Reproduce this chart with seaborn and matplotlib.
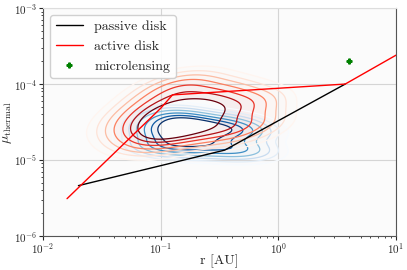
import matplotlib
matplotlib.use("Agg")
import matplotlib.pyplot as plt
import numpy as np
import pandas as pd
import seaborn as sns

# poblaciones para las KDE
r_azul = [0.075, 0.075, 0.09, 0.09, 0.09, 0.11, 0.11, 0.11, 0.11, 0.13, 0.13, 0.13, 0.13,
          0.16, 0.16, 0.16, 0.16, 0.2, 0.2, 0.2, 0.2, 0.24, 0.24, 0.24, 0.3, 0.3, 0.3,
          0.37, 0.37, 0.37, 0.45, 0.45, 0.45, 0.55, 0.55, 0.65, 0.65]
mu_azul = [1.6e-5, 2.6e-5, 1.4e-5, 2.2e-5, 3.3e-5, 1.5e-5, 2.0e-5, 2.7e-5, 3.8e-5,
           1.4e-5, 2.1e-5, 2.8e-5, 3.6e-5, 1.5e-5, 2.2e-5, 2.9e-5, 4.0e-5,
           1.4e-5, 2.0e-5, 2.7e-5, 3.5e-5, 1.5e-5, 2.1e-5, 3.0e-5, 1.4e-5, 2.2e-5, 3.1e-5,
           1.3e-5, 2.0e-5, 2.9e-5, 1.4e-5, 2.3e-5, 3.2e-5, 1.3e-5, 2.4e-5, 1.4e-5, 2.5e-5]
r_rojo = [0.048, 0.055, 0.055, 0.07, 0.07, 0.07, 0.085, 0.085, 0.085, 0.085, 0.1, 0.1, 0.1, 0.1,
          0.12, 0.12, 0.12, 0.12, 0.15, 0.15, 0.15, 0.15, 0.18, 0.18, 0.18, 0.18,
          0.22, 0.22, 0.22, 0.22, 0.27, 0.27, 0.27, 0.33, 0.33, 0.33, 0.4, 0.4, 0.4,
          0.5, 0.5, 0.6, 0.6, 0.7, 0.7]
mu_rojo = [2.6e-5, 2.0e-5, 3.5e-5, 1.7e-5, 2.7e-5, 4.5e-5, 1.8e-5, 2.6e-5, 3.8e-5, 6.0e-5,
           1.9e-5, 2.8e-5, 4.2e-5, 7.0e-5, 2.0e-5, 3.0e-5, 4.5e-5, 8.5e-5,
           2.1e-5, 3.3e-5, 5.0e-5, 1.0e-4, 2.2e-5, 3.5e-5, 5.5e-5, 9.0e-5,
           2.3e-5, 3.8e-5, 6.0e-5, 1.05e-4, 2.4e-5, 4.0e-5, 6.5e-5, 2.5e-5, 4.2e-5, 7.5e-5,
           2.3e-5, 4.5e-5, 8.0e-5, 2.6e-5, 5.5e-5, 3.0e-5, 6.0e-5, 3.4e-5, 5.8e-5]

# modelos de disco
r_pasivo = [0.02, 0.35, 3.7]
mu_pasivo = [4.6e-6, 1.35e-5, 1.0e-4]
r_activo = [0.016, 0.1, 0.126, 3.7, 10.0]
mu_activo = [3.1e-6, 4.8e-5, 7.2e-5, 1.0e-4, 2.4e-4]

# microlensing
r_micro = [4.0]
mu_micro = [2.0e-4]

niveles = [0.03, 0.07, 0.13, 0.22, 0.35, 0.5, 0.66]

sns.set_style("whitegrid")
plt.rcParams['font.family'] = ['serif']
plt.rcParams['font.serif'] = ['cmr10']
plt.rcParams['mathtext.fontset'] = 'cm'
plt.rcParams['axes.formatter.use_mathtext'] = True

fig = plt.figure(figsize=(4.07, 2.70), dpi=100)
ax = fig.add_axes([0.1057, 0.126, 0.8673, 0.844])
ax.set_facecolor('#fbfbfb')

df_azul = pd.DataFrame({'r': r_azul, 'mu': mu_azul})
df_rojo = pd.DataFrame({'r': r_rojo, 'mu': mu_rojo})

for df, cmap in [(df_azul, 'Blues'), (df_rojo, 'Reds')]:
    sns.kdeplot(data=df, x='r', y='mu', log_scale=True, fill=True, cmap=cmap,
                alpha=0.05, levels=niveles, bw_adjust=1.15, ax=ax)
    sns.kdeplot(data=df, x='r', y='mu', log_scale=True, cmap=cmap,
                levels=niveles, bw_adjust=1.15, linewidths=0.9, ax=ax)

ax.plot(r_pasivo, mu_pasivo, color='black', lw=1.0, label='passive disk')
ax.plot(r_activo, mu_activo, color='red', lw=1.0, label='active disk')
ax.plot(r_micro, mu_micro, 'P', color='green', ms=3.5, lw=0, label='microlensing')

ax.set_xscale('log')
ax.set_yscale('log')
ax.set_xlim(1e-2, 10)
ax.set_ylim(1e-6, 1e-3)
ax.grid(True, which='major', color='#d5d5d5', lw=0.8)
ax.grid(False, which='minor')
ax.tick_params(axis='both', which='major', labelsize=8, length=3, pad=1, left=True, bottom=True)
ax.tick_params(axis='both', which='minor', length=1.5, left=True, bottom=True)
for s in ['left', 'bottom', 'right']:
    ax.spines[s].set_color('#555555')
ax.spines['top'].set_color('#dddddd')

ax.set_xlabel('r [AU]', fontsize=10, labelpad=-1)
ax.set_ylabel(r'$\mu_{\rm thermal}$', fontsize=10, labelpad=0)
ax.legend(loc='upper left', fontsize=10, frameon=True, framealpha=0.9)

plt.savefig('out.png', dpi=100)
plt.close()
